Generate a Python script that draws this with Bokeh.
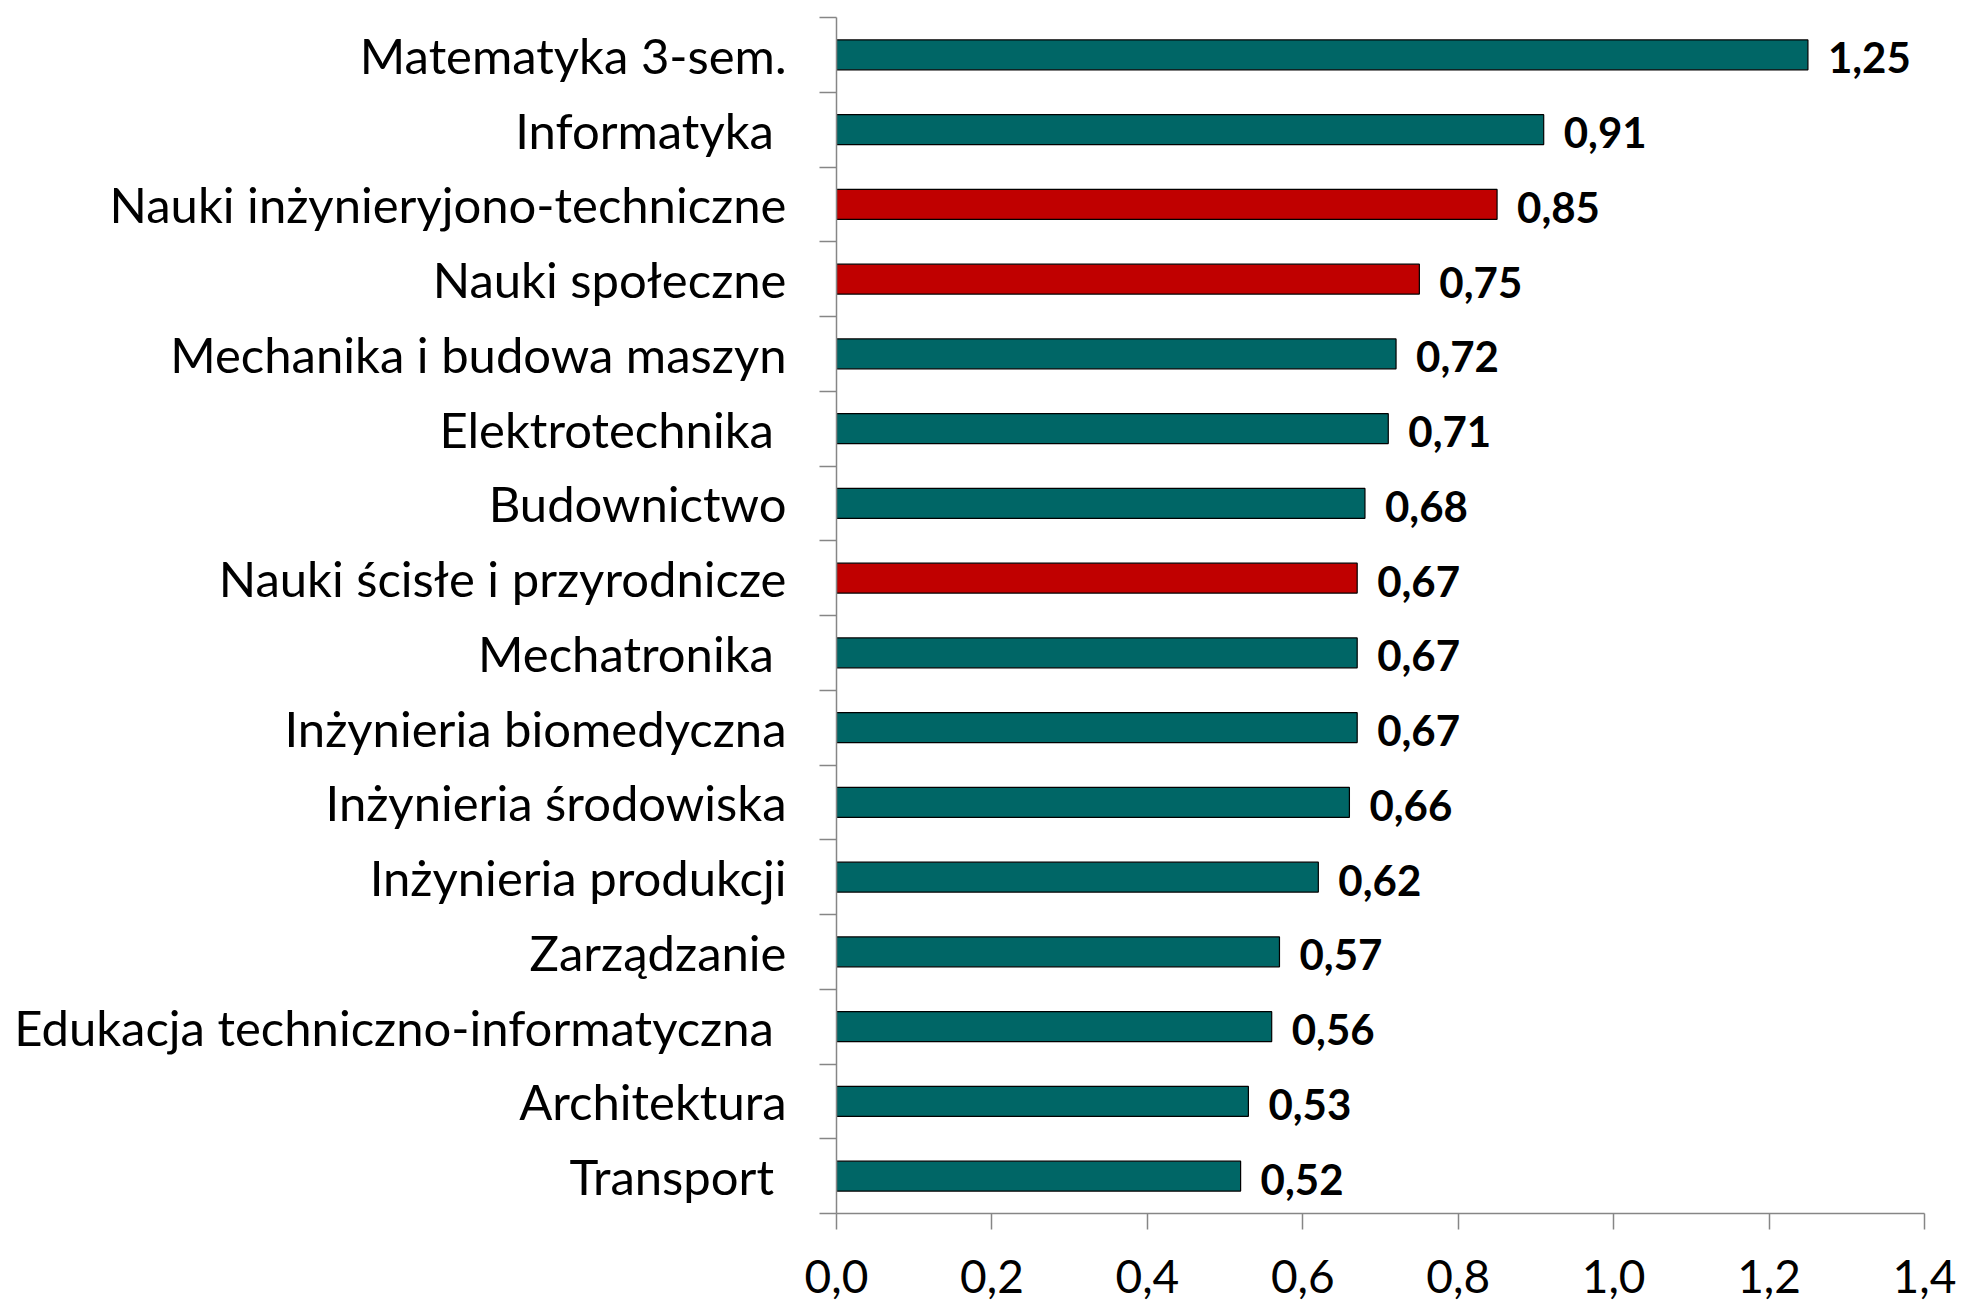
from bokeh.plotting import figure
from bokeh.models import Range1d, FixedTicker, ColumnDataSource
from bokeh.embed import file_html
from bokeh.resources import INLINE
from bokeh.core.properties import value

categories = [
    "Matematyka 3-sem.",
    "Informatyka ",
    "Nauki inżynieryjono-techniczne",
    "Nauki społeczne",
    "Mechanika i budowa maszyn",
    "Elektrotechnika ",
    "Budownictwo",
    "Nauki ścisłe i przyrodnicze",
    "Mechatronika ",
    "Inżynieria biomedyczna",
    "Inżynieria środowiska",
    "Inżynieria produkcji",
    "Zarządzanie",
    "Edukacja techniczno-informatyczna ",
    "Architektura",
    "Transport ",
]
values = [1.25, 0.91, 0.85, 0.75, 0.72, 0.71, 0.68, 0.67, 0.67, 0.67, 0.66, 0.62, 0.57, 0.56, 0.53, 0.52]
is_group = [False, False, True, True, False, False, False, True, False, False, False, False, False, False, False, False]
x_ticks = [0, 0.2, 0.4, 0.6, 0.8, 1, 1.2, 1.4]
x_tick_labels = ["0,0", "0,2", "0,4", "0,6", "0,8", "1,0", "1,2", "1,4"]

TEAL = "#006666"
RED = "#C00000"
GREY = "#868686"
FONT = "Lato"

n = len(categories)
centers = [n - i - 0.5 for i in range(n)]
colors = [RED if g else TEAL for g in is_group]
labels = [f"{v:.2f}".replace(".", ",") for v in values]

src = ColumnDataSource(dict(y=centers, right=values, color=colors, label=labels, name=categories))

p = figure(width=1960, height=1305, output_backend="svg", toolbar_location=None,
           x_range=Range1d(0, 1.4), y_range=Range1d(0, n),
           min_border_left=836, min_border_right=36, min_border_top=17, min_border_bottom=92)
p.outline_line_color = None
p.xgrid.grid_line_color = None
p.ygrid.grid_line_color = None
p.background_fill_color = "white"
p.border_fill_color = "white"

p.hbar(y="y", left=0, right="right", height=0.4, fill_color="color",
       line_color="black", line_width=1.2, source=src)

p.text(x="right", y="y", text="label", source=src, x_offset=20, y_offset=3,
       text_font=value(FONT), text_font_style="bold", text_font_size="42px",
       text_baseline="middle", text_align="left", text_color="black")

# y axis: labels at centers, ticks at boundaries
ya = p.yaxis[0]
ya.ticker = FixedTicker(ticks=centers, minor_ticks=list(range(n + 1)))
ya.major_label_overrides = {c: name for c, name in zip(centers, categories)}
ya.major_tick_line_color = None
ya.major_tick_out = 0
ya.major_tick_in = 0
ya.minor_tick_line_color = GREY
ya.minor_tick_line_width = 1.5
ya.minor_tick_out = 17
ya.minor_tick_in = 0
ya.axis_line_color = GREY
ya.axis_line_width = 1.5
ya.major_label_standoff = 33
ya.major_label_text_font = FONT
ya.major_label_text_font_size = "49px"
ya.major_label_text_color = "black"

xa = p.xaxis[0]
xa.ticker = FixedTicker(ticks=x_ticks)
xa.major_label_overrides = {t: l for t, l in zip(x_ticks, x_tick_labels)}
xa.minor_tick_line_color = None
xa.major_tick_line_color = GREY
xa.major_tick_line_width = 1.5
xa.major_tick_out = 16
xa.major_tick_in = 0
xa.axis_line_color = GREY
xa.axis_line_width = 1.5
xa.major_label_standoff = 30
xa.major_label_text_font = FONT
xa.major_label_text_font_size = "46px"
xa.major_label_text_color = "black"

open("out.html", "w").write(file_html(p, INLINE))
